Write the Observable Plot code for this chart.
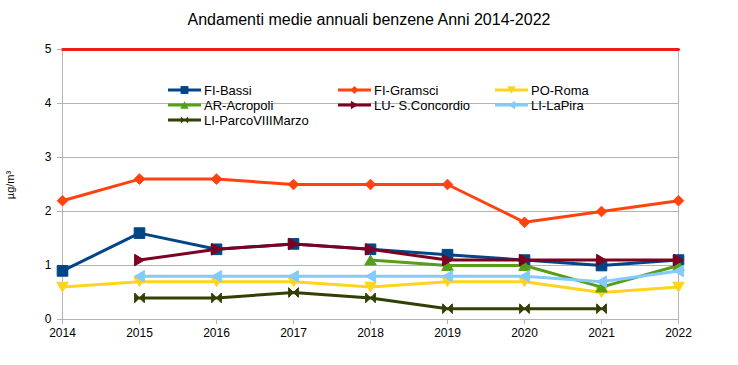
<!DOCTYPE html>
<html><head><meta charset="utf-8">
<script src="https://cdn.jsdelivr.net/npm/d3@7"></script>
<script src="https://cdn.jsdelivr.net/npm/@observablehq/plot@0.6"></script>
<style>
body{margin:0;background:#fff;font-family:"Liberation Sans",Arial,sans-serif;}
#wrap{position:relative;width:738px;height:365px;}
#title{position:absolute;left:0;width:738px;top:11px;text-align:center;font-size:16px;color:#000;}
#ylab{position:absolute;left:10px;top:185px;font-size:11px;transform:translate(-50%,-50%) rotate(-90deg);transform-origin:center;white-space:nowrap;}
#legend{position:absolute;left:0;top:0;width:738px;height:365px;pointer-events:none;}
</style></head>
<body><div id="wrap"><div id="chart"></div><div id="title">Andamenti medie annuali benzene Anni 2014-2022</div><div id="ylab">µg/m³</div><svg id="legend" width="738" height="365"></svg></div>
<script>
const years = [2014, 2015, 2016, 2017, 2018, 2019, 2020, 2021, 2022];
const seriesNames = ["FI-Bassi", "FI-Gramsci", "PO-Roma", "AR-Acropoli", "LU- S.Concordio", "LI-LaPira", "LI-ParcoVIIIMarzo"];
const fiBassi    = [0.9, 1.6, 1.3, 1.4, 1.3, 1.2, 1.1, 1.0, 1.1];
const fiGramsci  = [2.2, 2.6, 2.6, 2.5, 2.5, 2.5, 1.8, 2.0, 2.2];
const poRoma     = [0.6, 0.7, 0.7, 0.7, 0.6, 0.7, 0.7, 0.5, 0.6];
const arAcropoli = [null, null, null, null, 1.1, 1.0, 1.0, 0.6, 1.0];
const luConcordio= [null, 1.1, 1.3, 1.4, 1.3, 1.1, 1.1, 1.1, 1.1];
const liLaPira   = [null, 0.8, 0.8, 0.8, 0.8, 0.8, 0.8, 0.7, 0.9];
const liParco    = [null, 0.4, 0.4, 0.5, 0.4, 0.2, 0.2, 0.2, null];
const limitValue = [5, 5, 5, 5, 5, 5, 5, 5, 5];
const colors = ["#004586", "#ff420e", "#ffd320", "#579d1c", "#7e0021", "#83caff", "#314004"];
const yTicks = [0, 1, 2, 3, 4, 5];

const allValues = [fiBassi, fiGramsci, poRoma, arAcropoli, luConcordio, liLaPira, liParco];

function tri(dir){
  return {draw(ctx, size){
    const s = Math.sqrt(size)/2;
    const h = s*0.85;
    if(dir==='down'){ctx.moveTo(-s,-h);ctx.lineTo(s,-h);ctx.lineTo(0,h);}
    else if(dir==='up'){ctx.moveTo(-s,h);ctx.lineTo(s,h);ctx.lineTo(0,-h);}
    else if(dir==='right'){ctx.moveTo(-h,-s);ctx.lineTo(-h,s);ctx.lineTo(h,0);}
    else {ctx.moveTo(h,-s);ctx.lineTo(h,s);ctx.lineTo(-h,0);}
    ctx.closePath();
  }};
}
const bowtie = {draw(ctx, size){
  const s = Math.sqrt(size)/2;
  ctx.moveTo(-s,-s);ctx.lineTo(0,0);ctx.lineTo(-s,s);ctx.closePath();
  ctx.moveTo(s,-s);ctx.lineTo(0,0);ctx.lineTo(s,s);ctx.closePath();
}};
const diamond = {draw(ctx, size){
  const s = Math.sqrt(size)/2;
  ctx.moveTo(0,-s);ctx.lineTo(s,0);ctx.lineTo(0,s);ctx.lineTo(-s,0);ctx.closePath();
}};
const symbols = [d3.symbolSquare, diamond, tri('down'), tri('up'), tri('right'), tri('left'), bowtie];
const radii = [6, 6, 6.5, 6.5, 6.5, 6.5, 5.5];

const marks = [
  Plot.gridY(yTicks, {stroke:"#b3b3b3", strokeOpacity:1}),
  Plot.ruleX([2014, 2022], {stroke:"#b3b3b3"}),
  Plot.ruleY([0], {stroke:"#b3b3b3"}),
  Plot.lineY(years.map((y,i)=>({year:y, v:limitValue[i]})), {x:"year", y:"v", stroke:"#ee1c1c", strokeWidth:3}),
  Plot.axisX({ticks: years, tickFormat: d=>String(d), tickSize:5, tickPadding:4, stroke:"#b3b3b3", fontSize:12, color:"#000"}),
  Plot.axisY({ticks: yTicks, tickFormat: d=>String(d), tickSize:5, tickPadding:6, stroke:"#b3b3b3", fontSize:12, label:null})
];
allValues.forEach((vals, k)=>{
  const rows = years.map((y,i)=>({year:y, v:vals[i]})).filter(d=>d.v!=null);
  marks.push(Plot.line(rows, {x:"year", y:"v", stroke:colors[k], strokeWidth:3}));
  marks.push(Plot.dot(rows, {x:"year", y:"v", fill:colors[k], stroke:colors[k], strokeWidth:1, symbol:()=>symbols[k], r:radii[k]}));
});

const chart = Plot.plot({
  width:738, height:365,
  marginLeft:62, marginRight:60, marginTop:49, marginBottom:46,
  style:{fontFamily:"Liberation Sans, Arial, sans-serif", fontSize:"12px", color:"#000", background:"#fff"},
  x:{domain:[2014,2022], label:null},
  y:{domain:[0,5], label:null},
  symbol:{type:"identity"},
  marks
});
document.getElementById("chart").appendChild(chart);

const lg = d3.select("#legend");
const cols = [168, 338, 495];
const rowsY = [90, 105, 120];
seriesNames.forEach((name,k)=>{
  const c = k % 3, r = Math.floor(k/3);
  const x = cols[c], y = rowsY[r];
  const g = lg.append("g");
  g.append("line").attr("x1",x).attr("x2",x+33).attr("y1",y).attr("y2",y).attr("stroke",colors[k]).attr("stroke-width",3);
  g.append("path").attr("transform",`translate(${x+16.5},${y})`)
    .attr("d", d3.symbol(symbols[k], radii[k]*radii[k]*Math.PI*0.55)()).attr("fill",colors[k]);
  g.append("text").attr("x",x+36).attr("y",y).attr("dy","0.36em").attr("font-size",13)
    .attr("font-family","Liberation Sans, Arial, sans-serif").attr("fill","#000").text(name);
});
</script></body></html>
